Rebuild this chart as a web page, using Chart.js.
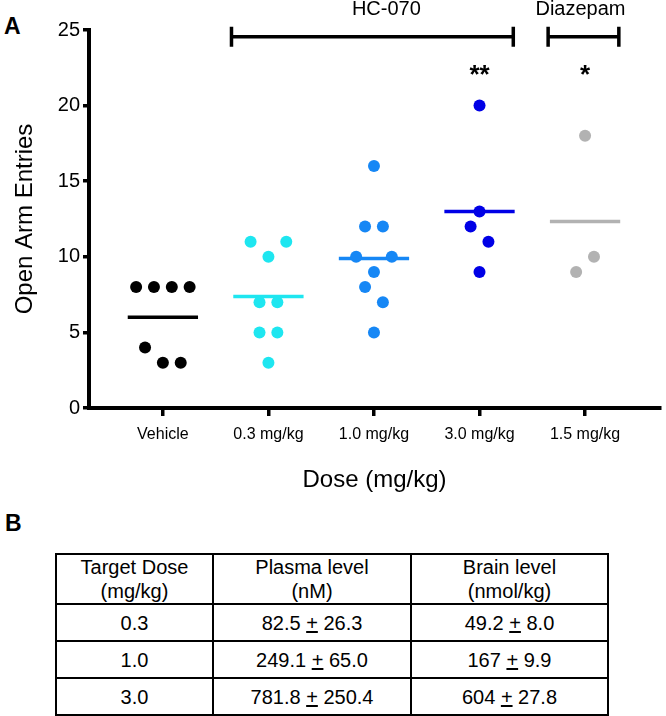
<!DOCTYPE html>
<html>
<head>
<meta charset="utf-8">
<script src="https://cdn.jsdelivr.net/npm/chart.js@4.4.1/dist/chart.umd.min.js"></script>
<style>
  html, body { margin: 0; padding: 0; background: #fff; }
  #page { position: relative; width: 666px; height: 716px; font-family: "Liberation Sans", Arial, sans-serif; color: #000; }
  #chart { position: absolute; left: 0; top: 0; }
  .panel { position: absolute; font-weight: bold; font-size: 23px; line-height: 23px; }
  #tbl { position: absolute; left: 55px; top: 553px; width: 554px; border-collapse: collapse; font-size: 20px; text-align: center; }
  #tbl td { border: 2px solid #000; padding: 0; }
  #tbl tr.head td { height: 47px; line-height: 24px; }
  #tbl tr.row td { height: 35px; line-height: 22px; }
  #tbl col.c1 { width: 157px; }
  #tbl col.c2 { width: 198px; }
</style>
</head>
<body>
<div id="page">
  <div class="panel" style="left:4px; top:15px;">A</div>
  <canvas id="chart" width="666" height="500"></canvas>
  <div class="panel" style="left:5px; top:512px;">B</div>
  <table id="tbl"><colgroup><col class="c1"><col class="c2"><col></colgroup><tbody></tbody></table>
</div>
<script>
// panel A data
const CATEGORIES = ['Vehicle', '0.3 mg/kg', '1.0 mg/kg', '3.0 mg/kg', '1.5 mg/kg'];
const VEHICLE = [8, 8, 8, 8, 4, 3, 3];
const HC070_03 = [11, 10, 11, 7, 7, 5, 5, 3];
const HC070_10 = [16, 12, 12, 10, 9, 10, 8, 7, 5];
const HC070_30 = [20, 13, 12, 11, 9];
const DIAZEPAM_15 = [18, 9, 10];
const SIGNIF = ['', '', '', '**', '*'];
const Y_TICKS = [0, 5, 10, 15, 20, 25];

// panel B data
const TABLE_HEAD = [['Target Dose', '(mg/kg)'], ['Plasma level', '(nM)'], ['Brain level', '(nmol/kg)']];
const TARGET_DOSE = ['0.3', '1.0', '3.0'];
const PLASMA_MEAN = ['82.5', '249.1', '781.8'];
const PLASMA_ERR = ['26.3', '65.0', '250.4'];
const BRAIN_MEAN = ['49.2', '167', '604'];
const BRAIN_ERR = ['8.0', '9.9', '27.8'];

const GROUPS = [VEHICLE, HC070_03, HC070_10, HC070_30, DIAZEPAM_15];
const COLORS = ['#000000', '#1ee6f0', '#1687f5', '#0000e6', '#b2b2b2'];
const FONT = '"Liberation Sans", Arial, sans-serif';

// GraphPad-like scatter: nearby values share a row and get spread sideways
function swarm(values, center, step) {
    const idx = values.map((v, i) => i).sort((a, b) => values[a] - values[b] || a - b);
    const rows = [];
    let row = null;
    idx.forEach(i => {
        if (!row || values[i] > values[row[0]] + 1) { row = [i]; rows.push(row); }
        else row.push(i);
    });
    const pts = [];
    rows.forEach(r => {
        const ordered = r.slice().sort((a, b) => a - b);
        ordered.forEach((i, k) => pts.push({ x: center + (k - (ordered.length - 1) / 2) * step, y: values[i] }));
    });
    return pts;
}

const mean = arr => arr.reduce((s, v) => s + v, 0) / arr.length;

const datasets = [];
GROUPS.forEach((vals, i) => {
    datasets.push({
        type: 'scatter',
        data: swarm(vals, i, 0.169),
        backgroundColor: COLORS[i],
        borderWidth: 0,
        pointRadius: 6,
        pointHoverRadius: 6,
        order: 0
    });
    const m = mean(vals);
    datasets.push({
        type: 'line',
        data: [{ x: i - 0.333, y: m }, { x: i + 0.333, y: m }],
        borderColor: COLORS[i],
        borderWidth: 3.5,
        pointRadius: 0,
        showLine: true,
        order: 1
    });
});

const bracketPlugin = {
    id: 'brackets',
    afterDraw(chart) {
        const { ctx } = chart;
        const xs = chart.scales.x, ys = chart.scales.y;
        const yB = ys.getPixelForValue(24.55);
        ctx.save();
        ctx.strokeStyle = '#000';
        ctx.fillStyle = '#000';
        ctx.lineWidth = 3.5;
        [['HC-070', 1, 3], ['Diazepam', 4, 4]].forEach(([label, from, to]) => {
            const x1 = xs.getPixelForValue(from - 0.35);
            const x2 = xs.getPixelForValue(to + 0.32);
            ctx.beginPath();
            ctx.moveTo(x1, yB); ctx.lineTo(x2, yB);
            ctx.moveTo(x1, yB - 10); ctx.lineTo(x1, yB + 10);
            ctx.moveTo(x2, yB - 10); ctx.lineTo(x2, yB + 10);
            ctx.stroke();
            ctx.font = '20px ' + FONT;
            ctx.textAlign = 'center';
            ctx.textBaseline = 'middle';
            ctx.fillText(label, (x1 + x2) / 2 + (label === 'HC-070' ? 14 : -3), yB - 27);
        });
        ctx.font = 'bold 26px ' + FONT;
        ctx.textAlign = 'center';
        ctx.textBaseline = 'middle';
        SIGNIF.forEach((s, i) => {
            if (s) ctx.fillText(s, xs.getPixelForValue(i), ys.getPixelForValue(22.0));
        });
        ctx.restore();
    }
};

new Chart(document.getElementById('chart').getContext('2d'), {
    type: 'scatter',
    data: { datasets },
    options: {
        responsive: false,
        animation: false,
        layout: { padding: { top: 30, left: 0, right: 0, bottom: 0 } },
        plugins: { legend: { display: false }, tooltip: { enabled: false } },
        scales: {
            x: {
                type: 'linear',
                min: -0.7,
                max: 4.71,
                afterBuildTicks: scale => { scale.ticks = CATEGORIES.map((c, i) => ({ value: i })); },
                afterFit: scale => { scale.height = 92; },
                ticks: {
                    callback: v => CATEGORIES[v],
                    font: { family: FONT, size: 16 },
                    color: '#000',
                    padding: 9,
                    maxRotation: 0
                },
                grid: { drawOnChartArea: false, color: '#000', lineWidth: 3.5, tickLength: 8 },
                border: { color: '#000', width: 4 },
                title: { display: true, text: 'Dose (mg/kg)', font: { family: FONT, size: 24 }, color: '#000', padding: { top: 0, bottom: 5 } }
            },
            y: {
                min: 0,
                max: 25,
                afterBuildTicks: scale => { scale.ticks = Y_TICKS.map(v => ({ value: v })); },
                afterFit: scale => { scale.width = 89; },
                ticks: { font: { family: FONT, size: 20 }, color: '#000', padding: 3 },
                grid: { drawOnChartArea: false, color: '#000', lineWidth: 3.5, tickLength: 6 },
                border: { color: '#000', width: 4 },
                title: { display: true, text: 'Open Arm Entries', font: { family: FONT, size: 24 }, color: '#000', padding: { top: 11, bottom: 0 } }
            }
        }
    },
    plugins: [bracketPlugin]
});

// panel B table
const tbody = document.querySelector('#tbl tbody');
const head = document.createElement('tr');
head.className = 'head';
TABLE_HEAD.forEach(h => {
    const td = document.createElement('td');
    td.innerHTML = h.join('<br>');
    head.appendChild(td);
});
tbody.appendChild(head);
TARGET_DOSE.forEach((d, i) => {
    const tr = document.createElement('tr');
    tr.className = 'row';
    [d, PLASMA_MEAN[i] + ' <u>+</u> ' + PLASMA_ERR[i], BRAIN_MEAN[i] + ' <u>+</u> ' + BRAIN_ERR[i]].forEach(t => {
        const td = document.createElement('td');
        td.innerHTML = t;
        tr.appendChild(td);
    });
    tbody.appendChild(tr);
});
</script>
</body>
</html>
